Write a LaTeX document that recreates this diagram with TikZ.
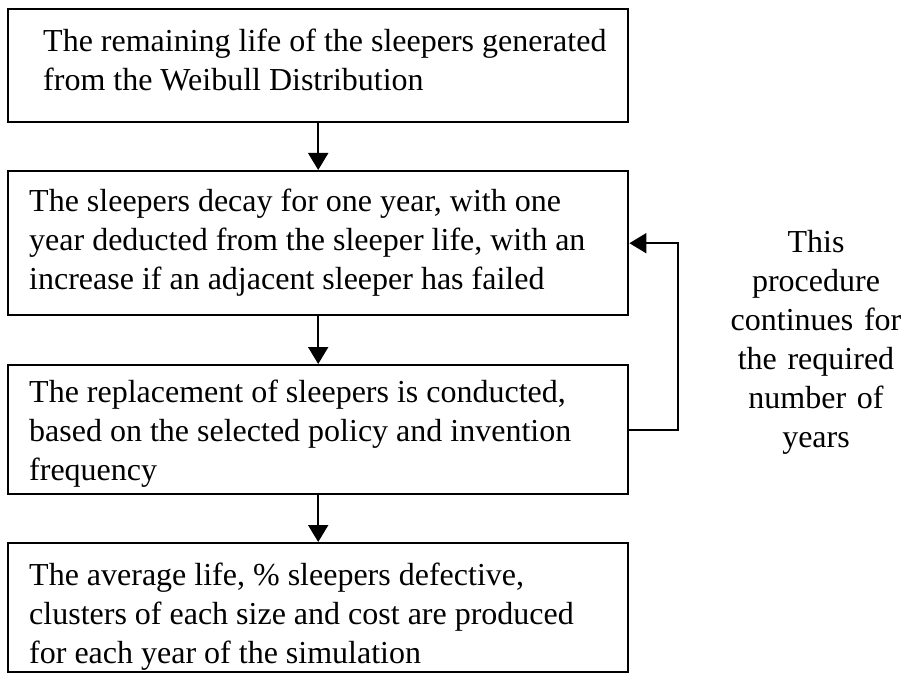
\documentclass[tikz,border=0pt]{standalone}
\usepackage{amsmath}
\usepackage{fontspec}
\setmainfont{Liberation Serif}
\usepackage{tikz}
\usetikzlibrary{arrows.meta}
\hyphenpenalty=10000
\exhyphenpenalty=10000

\begin{document}
\begin{tikzpicture}
            [x=1pt,y=-1pt,line width=2pt,every node/.style={font=\fontsize{32}{39}\selectfont,inner ysep=0pt},
            box/.style={draw,line width=2.4pt,anchor=north west,align=flush left,text width=578pt,inner xsep=21pt},
            arr/.style={-{Triangle[length=17pt,width=20pt]}}]
            \useasboundingbox (0,0) rectangle (902,674);
            \node[box,text height=42pt,text depth=71pt] (1) at (7,8)
                {\hspace*{14pt}The remaining life of the sleepers generated\\\hspace*{14pt}from the Weibull Distribution};
            \node[box,text height=40pt,text depth=104pt] (2) at (7,170)
                {The sleepers decay for one year, with one\\year deducted from the sleeper life, with an\\increase if an adjacent sleeper has failed};
            \node[box,text height=37pt,text depth=92pt] (3) at (7,364)
                {The replacement of sleepers is conducted,\\based on the selected policy and invention\\frequency};
            \node[box,text height=42pt,text depth=87pt] (4) at (7,542)
                {The average life, \% sleepers defective,\\clusters of each size and cost are produced\\for each year of the simulation};
            \node[anchor=base,align=center,text width=200pt] (note) at (816,252)
                {This\\procedure\\continues for\\the required\\number of\\years};
            \draw[arr] (1) -- (2);
            \draw[arr] (2) -- (3);
            \draw[arr] (3) -- (4);

            \draw[arr] (3.east) -- ++(49,0) |- (2.east);

        \end{tikzpicture}
\end{document}
